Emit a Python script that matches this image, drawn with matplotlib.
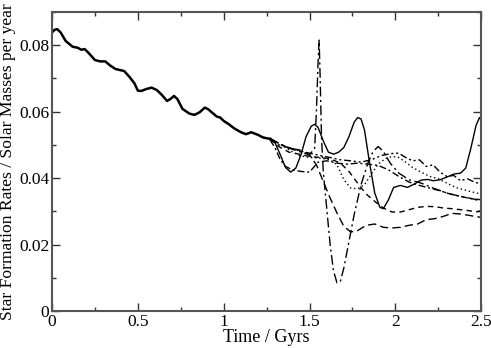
import matplotlib
matplotlib.use("Agg")
import matplotlib.pyplot as plt
from matplotlib.ticker import MultipleLocator, FuncFormatter

plt.rcParams['font.family'] = ['Liberation Serif', 'DejaVu Serif']

# common early history (all runs overlap here)
t_common = [0.0, 0.015, 0.03, 0.05, 0.08, 0.12, 0.15, 0.17, 0.19, 0.21, 0.25, 0.28, 0.31,
            0.34, 0.37, 0.42, 0.45, 0.48, 0.5, 0.52, 0.55, 0.58, 0.61, 0.64, 0.67, 0.69,
            0.71, 0.73, 0.76, 0.8, 0.83, 0.86, 0.89, 0.91, 0.93, 0.96, 0.98, 1.0, 1.03,
            1.06, 1.1, 1.13, 1.16, 1.2, 1.23, 1.27]
sfr_common = [0.0838, 0.0846, 0.0848, 0.0838, 0.0812, 0.0795, 0.0792, 0.0786, 0.0788, 0.0778,
              0.0755, 0.0751, 0.0751, 0.0738, 0.0728, 0.0722, 0.0705, 0.0685, 0.0663, 0.0662,
              0.0668, 0.0672, 0.0665, 0.065, 0.0632, 0.0638, 0.0647, 0.0638, 0.0608, 0.0594,
              0.059, 0.0598, 0.0612, 0.0607, 0.0598, 0.0585, 0.0582, 0.0572, 0.0562, 0.055,
              0.0538, 0.0532, 0.0538, 0.053, 0.0522, 0.0518]

# individual runs after they diverge
t_solid = [1.27, 1.3, 1.33, 1.36, 1.39, 1.42, 1.45, 1.48, 1.51, 1.53, 1.55, 1.58, 1.61, 1.64,
           1.67, 1.7, 1.73, 1.76, 1.78, 1.8, 1.82, 1.85, 1.88, 1.91, 1.93, 1.96, 1.99, 2.03,
           2.07, 2.11, 2.15, 2.19, 2.22, 2.26, 2.3, 2.34, 2.38, 2.41, 2.44, 2.47, 2.49, 2.5]
sfr_solid = [0.0518, 0.0505, 0.047, 0.0432, 0.0418, 0.043, 0.047, 0.0525, 0.0556, 0.0562,
             0.0552, 0.0512, 0.0478, 0.0472, 0.0478, 0.0492, 0.0525, 0.0568, 0.0582, 0.0578,
             0.0545, 0.0445, 0.0355, 0.0312, 0.0308, 0.0335, 0.0372, 0.0378, 0.0372, 0.0382,
             0.0394, 0.0396, 0.0392, 0.0395, 0.0403, 0.0412, 0.0415, 0.043, 0.049, 0.0558,
             0.0582, 0.0575]

t_spike = [1.27, 1.32, 1.38, 1.44, 1.5, 1.53, 1.54, 1.55, 1.556, 1.562, 1.57, 1.58, 1.6, 1.62,
           1.64, 1.66, 1.68, 1.7, 1.73, 1.76, 1.8, 1.84, 1.87, 1.9, 1.93, 1.97, 2.02, 2.08,
           2.15, 2.22, 2.3, 2.38, 2.45, 2.5]
sfr_spike = [0.052, 0.0505, 0.049, 0.048, 0.047, 0.049, 0.06, 0.075, 0.0815, 0.07, 0.052,
             0.042, 0.031, 0.02, 0.012, 0.0085, 0.009, 0.013, 0.021, 0.029, 0.038, 0.0445,
             0.048, 0.0495, 0.048, 0.0445, 0.0415, 0.0395, 0.0385, 0.037, 0.0355, 0.0345,
             0.0338, 0.033]

t_longdash = [1.27, 1.32, 1.38, 1.44, 1.5, 1.54, 1.58, 1.62, 1.66, 1.7, 1.74, 1.78, 1.83,
              1.88, 1.93, 1.98, 2.03, 2.08, 2.13, 2.18, 2.23, 2.28, 2.33, 2.38, 2.43, 2.47, 2.5]
sfr_longdash = [0.0515, 0.0505, 0.049, 0.0485, 0.047, 0.044, 0.039, 0.034, 0.0295, 0.0255,
                0.0238, 0.0242, 0.0258, 0.0262, 0.0252, 0.025, 0.0252, 0.0258, 0.0262,
                0.0275, 0.0278, 0.0285, 0.0294, 0.0292, 0.0288, 0.0284, 0.0282]

t_dash = [1.27, 1.32, 1.38, 1.44, 1.5, 1.56, 1.62, 1.68, 1.73, 1.78, 1.83, 1.88, 1.93, 1.98,
          2.03, 2.08, 2.13, 2.18, 2.23, 2.28, 2.33, 2.38, 2.43, 2.47, 2.5]
sfr_dash = [0.0518, 0.0495, 0.0478, 0.0472, 0.0465, 0.0462, 0.0458, 0.0445, 0.042, 0.0385,
            0.0352, 0.033, 0.031, 0.0298, 0.0298, 0.0305, 0.0312, 0.0315, 0.0314, 0.031,
            0.0308, 0.0305, 0.0302, 0.0298, 0.0302]

t_dot = [1.27, 1.32, 1.38, 1.44, 1.5, 1.56, 1.62, 1.66, 1.7, 1.74, 1.78, 1.82, 1.86, 1.9,
         1.94, 1.98, 2.02, 2.06, 2.1, 2.15, 2.2, 2.25, 2.3, 2.35, 2.4, 2.45, 2.5]
sfr_dot = [0.052, 0.0505, 0.0485, 0.0468, 0.0462, 0.046, 0.0455, 0.044, 0.0395, 0.037,
           0.0368, 0.038, 0.0412, 0.0442, 0.0458, 0.0465, 0.0462, 0.0448, 0.0432, 0.0418,
           0.0405, 0.0398, 0.0385, 0.0372, 0.0365, 0.0358, 0.0352]

t_dashdot = [1.27, 1.3, 1.33, 1.36, 1.4, 1.45, 1.5, 1.55, 1.6, 1.66, 1.72, 1.78, 1.84, 1.9,
             1.96, 2.02, 2.08, 2.14, 2.2, 2.26, 2.32, 2.38, 2.44, 2.5]
sfr_dashdot = [0.0515, 0.049, 0.0455, 0.0435, 0.0425, 0.042, 0.0418, 0.0448, 0.0452, 0.0445,
               0.0442, 0.0445, 0.0442, 0.0438, 0.0425, 0.0405, 0.0388, 0.0378, 0.037,
               0.0362, 0.0352, 0.0345, 0.0338, 0.0335]

t_dashdotdot = [1.27, 1.32, 1.38, 1.44, 1.5, 1.56, 1.62, 1.68, 1.74, 1.8, 1.86, 1.92, 1.98,
                2.02, 2.06, 2.1, 2.14, 2.18, 2.22, 2.26, 2.3, 2.34, 2.38, 2.42, 2.46, 2.5]
sfr_dashdotdot = [0.0518, 0.05, 0.0492, 0.0482, 0.0475, 0.0468, 0.0462, 0.0455, 0.0452,
                  0.0448, 0.0455, 0.0468, 0.0474, 0.0475, 0.0462, 0.0452, 0.0455, 0.0435,
                  0.044, 0.0418, 0.0405, 0.0408, 0.0392, 0.0398, 0.0388, 0.0382]

fig = plt.figure(figsize=(4.91, 3.48), dpi=100)
ax = fig.add_axes([0.106, 0.106, 0.874, 0.86])

ax.plot(t_common, sfr_common, color='k', lw=1.8)
ax.plot(t_solid, sfr_solid, color='k', lw=1.0, ls='-')
ax.plot(t_spike, sfr_spike, color='k', lw=1.0, ls=(0, (7, 2.5, 1.5, 2.5)))
ax.plot(t_longdash, sfr_longdash, color='k', lw=1.0, ls=(0, (6, 3)))
ax.plot(t_dash, sfr_dash, color='k', lw=1.0, ls=(0, (4, 3)))
ax.plot(t_dot, sfr_dot, color='k', lw=1.0, ls=(0, (1, 2)))
ax.plot(t_dashdot, sfr_dashdot, color='k', lw=1.0, ls=(0, (5, 2, 1.5, 2)))
ax.plot(t_dashdotdot, sfr_dashdotdot, color='k', lw=1.0, ls=(0, (5, 2, 1.5, 2, 1.5, 2)))

ax.set_xlim(0, 2.5)
ax.set_ylim(0, 0.09)
ax.xaxis.set_major_locator(MultipleLocator(0.5))
ax.xaxis.set_minor_locator(MultipleLocator(0.25))
ax.yaxis.set_major_locator(MultipleLocator(0.02))
ax.yaxis.set_minor_locator(MultipleLocator(0.01))
ax.xaxis.set_major_formatter(FuncFormatter(lambda v, p: '%g' % v))
ax.yaxis.set_major_formatter(FuncFormatter(lambda v, p: '%g' % round(v, 3)))
ax.tick_params(which='both', direction='in', top=True, right=True, width=1.0,
               labelsize=12.5, color='#333333')
ax.tick_params(which='major', length=6, pad=2)
ax.tick_params(which='minor', length=3)
for s in ax.spines.values():
    s.set_linewidth(1.5)
    s.set_color('#555555')

ax.set_xlabel('Time / Gyrs', fontsize=13, labelpad=-1)
ax.set_ylabel('Star Formation Rates / Solar Masses per year', fontsize=12.6, labelpad=2)

fig.savefig('out.png', dpi=100)
